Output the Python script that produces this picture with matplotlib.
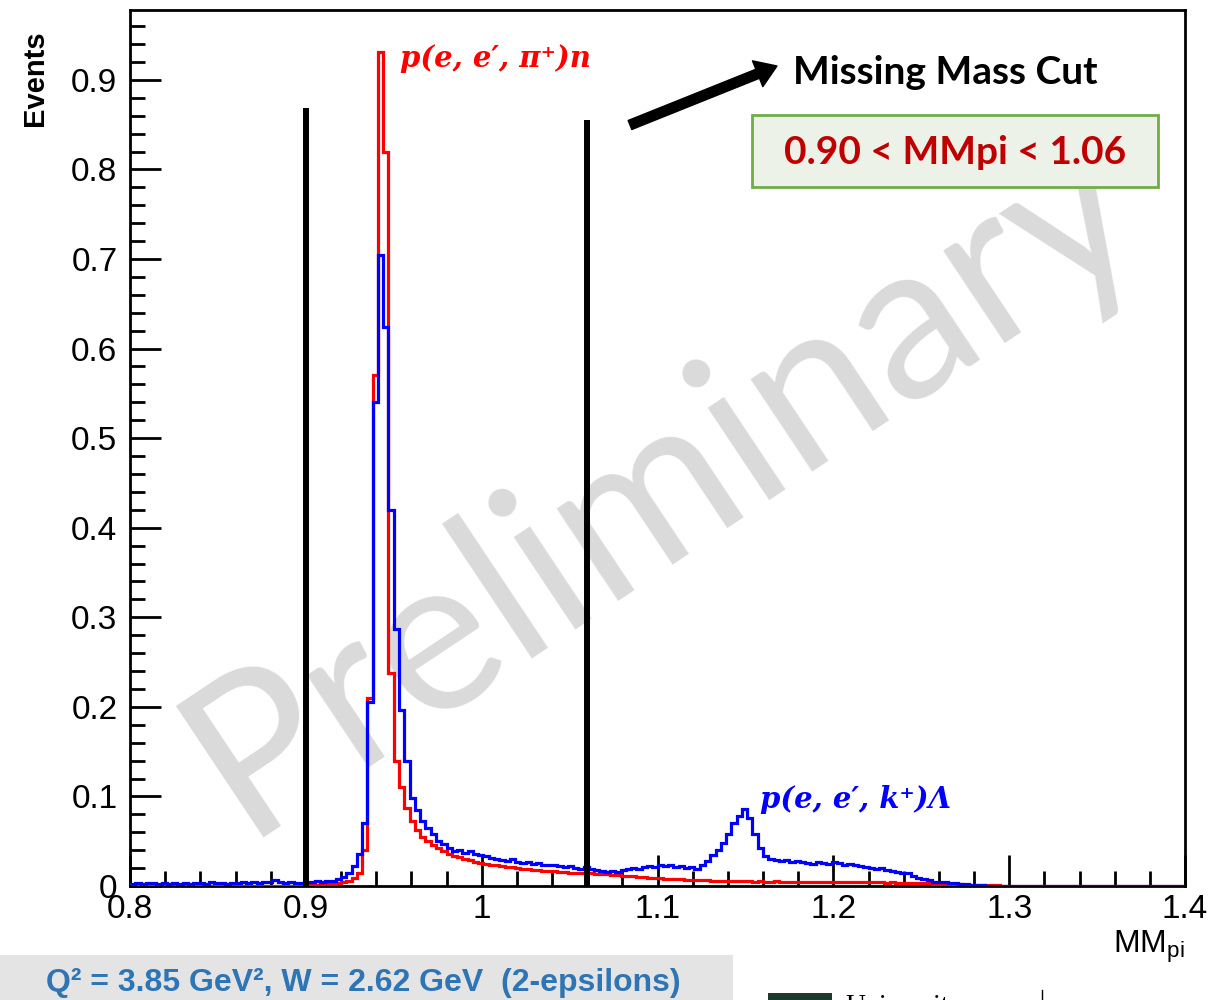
import numpy as np
import matplotlib.pyplot as plt
from matplotlib.patches import Rectangle
from matplotlib.lines import Line2D
from matplotlib.ticker import MultipleLocator, FuncFormatter

plt.rcParams['font.family'] = ['Liberation Sans', 'DejaVu Sans']

# missing mass histogram, 200 bins of 0.003 from 0.8 to 1.4
x_lo, x_hi, n_bins = 0.8, 1.4, 200

# p(e,e',pi+)n simulation
red_counts = ([0.0] * 30 + [
    0.0, 0.0, 0.0, 0.0, 0.001, 0.001, 0.001, 0.002, 0.002, 0.003,
    0.004, 0.006, 0.009, 0.014, 0.040, 0.210, 0.570, 0.931, 0.820, 0.238,
    0.140, 0.110, 0.087, 0.073, 0.062, 0.055, 0.050, 0.046, 0.042, 0.039,
    0.036, 0.034, 0.032, 0.030, 0.029, 0.027, 0.026, 0.025, 0.024, 0.023,
    0.022, 0.021, 0.021, 0.020, 0.019, 0.019, 0.018, 0.018, 0.017, 0.017,
    0.017, 0.016, 0.016, 0.015, 0.015, 0.015, 0.014, 0.014, 0.013, 0.013,
    0.013, 0.012, 0.012, 0.011, 0.011, 0.011, 0.010, 0.010, 0.009, 0.009,
    0.009, 0.008, 0.008, 0.008, 0.008, 0.007, 0.007, 0.007, 0.007, 0.007,
    0.006, 0.006, 0.006, 0.006, 0.006, 0.006, 0.006, 0.006, 0.005, 0.006,
    0.005, 0.005, 0.006, 0.005, 0.005, 0.005, 0.005, 0.005, 0.005, 0.005,
    0.005, 0.005, 0.004, 0.005, 0.004, 0.004, 0.004, 0.004, 0.004, 0.004,
    0.004, 0.004, 0.004, 0.003, 0.004, 0.003, 0.003, 0.003, 0.003, 0.003,
    0.003, 0.003, 0.002, 0.002, 0.002, 0.002, 0.002, 0.002, 0.001, 0.001,
    0.001, 0.001, 0.001, 0.001, 0.001,
] + [0.0] * 35)

# p(e,e',k+)Lambda simulation
blue_counts = [
    0.002, 0.003, 0.002, 0.003, 0.003, 0.002, 0.003, 0.002, 0.003, 0.002,
    0.003, 0.002, 0.003, 0.003, 0.002, 0.004, 0.003, 0.003, 0.002, 0.003,
    0.003, 0.004, 0.003, 0.004, 0.003, 0.004, 0.004, 0.007, 0.004, 0.003,
    0.004, 0.003, 0.003, 0.004, 0.005, 0.006, 0.005, 0.006, 0.006, 0.008,
    0.010, 0.015, 0.022, 0.036, 0.070, 0.205, 0.540, 0.705, 0.624, 0.420,
    0.287, 0.196, 0.140, 0.098, 0.085, 0.073, 0.065, 0.058, 0.050, 0.047,
    0.042, 0.039, 0.040, 0.037, 0.039, 0.036, 0.035, 0.033, 0.031, 0.030,
    0.029, 0.028, 0.030, 0.027, 0.026, 0.027, 0.025, 0.026, 0.024, 0.023,
    0.024, 0.022, 0.021, 0.022, 0.020, 0.019, 0.021, 0.019, 0.018, 0.017,
    0.016, 0.017, 0.016, 0.018, 0.019, 0.020, 0.019, 0.021, 0.022, 0.021,
    0.024, 0.022, 0.023, 0.021, 0.022, 0.020, 0.021, 0.019, 0.023, 0.028,
    0.035, 0.040, 0.048, 0.058, 0.070, 0.078, 0.086, 0.076, 0.058, 0.042,
    0.033, 0.030, 0.029, 0.028, 0.029, 0.027, 0.028, 0.027, 0.026, 0.025,
    0.027, 0.026, 0.025, 0.027, 0.026, 0.024, 0.025, 0.023, 0.022, 0.021,
    0.020, 0.019, 0.020, 0.018, 0.017, 0.016, 0.015, 0.014, 0.011, 0.009,
    0.008, 0.007, 0.005, 0.005, 0.004, 0.003, 0.003, 0.002, 0.002, 0.001,
    0.001, 0.001,
] + [0.0] * 38

# missing mass cut window and drawn line heights
cut_lo, cut_hi = 0.90, 1.06
cut_heights = [0.869, 0.855]

W, H = 1218, 1000
fig = plt.figure(figsize=(W / 100, H / 100), dpi=100)
ax = fig.add_axes([130 / W, 0.114, (1185 - 130) / W, 0.876])

edges = np.linspace(x_lo, x_hi, n_bins + 1)
ax.stairs(red_counts, edges, color='#ff0000', lw=2.3, zorder=3)
ax.stairs(blue_counts, edges, color='#0000ff', lw=2.3, zorder=4)
ax.vlines([cut_lo, cut_hi], 0, cut_heights, colors='black', lw=4.3, zorder=5)

ax.set_xlim(x_lo, x_hi)
ax.set_ylim(0, 0.978)
for axis in (ax.xaxis, ax.yaxis):
    axis.set_major_locator(MultipleLocator(0.1))
    axis.set_minor_locator(MultipleLocator(0.02))
    axis.set_major_formatter(FuncFormatter(lambda v, p: f'{v:g}'))
ax.tick_params(which='both', direction='in', top=False, right=False, width=2)
ax.tick_params(which='major', length=22, labelsize=24)
ax.tick_params(which='minor', length=11)
ax.tick_params(axis='y', pad=9)
ax.tick_params(axis='x', pad=6)
for s in ax.spines.values():
    s.set_linewidth(2)

# watermark
ax.text(0.505, 0.46, 'Preliminary', transform=ax.transAxes, rotation=33.7,
        rotation_mode='anchor', ha='center', va='center', fontsize=158,
        family='Lato', color='#dadada', zorder=0.5)

# reaction labels
ax.text(0.9536, 0.914, 'p(e, e′, π⁺)n', color='#ff0000', fontsize=21,
        family='DejaVu Serif', weight='bold', style='italic', va='baseline')
ax.text(1.1584, 0.087, 'p(e, e′, k⁺)Λ', color='#0000ff', fontsize=21,
        family='DejaVu Serif', weight='bold', style='italic', va='baseline')

# axis titles
fig.text(35 / W, 0.97, 'Events', rotation=90, ha='center', va='top',
         weight='bold', fontsize=21)
fig.text(1185 / W, 1 - 953 / H, r'MM$_{\mathregular{pi}}$', ha='right',
         va='baseline', fontsize=23)

# cut annotation
fig.text(793 / W, 1 - 84 / H, 'Missing Mass Cut', family='Lato', weight='bold',
         fontsize=28, va='baseline')
ax.annotate('', xy=(777 / W, 1 - 66 / H), xytext=(630 / W, 1 - 125 / H),
            xycoords='figure fraction', textcoords='figure fraction',
            arrowprops=dict(width=7, headwidth=20, headlength=15, color='black'))
fig.patches.append(Rectangle((752 / W, 1 - 187 / H), (1158 - 752) / W, 72 / H,
                             transform=fig.transFigure, fc='#ecf2e8',
                             ec='#70ad47', lw=2))
fig.text(955 / W, 1 - 152 / H, f'{cut_lo:.2f} < MMpi < {cut_hi:.2f}',
         family='Lato', weight='bold', fontsize=28, color='#c00000',
         ha='center', va='center')

# kinematics banner
fig.patches.append(Rectangle((0, 0), 733 / W, 0.045, transform=fig.transFigure,
                             fc='#e4e4e4', ec='none'))
fig.text(363 / W, 0.017, 'Q² = 3.85 GeV², W = 2.62 GeV  (2-epsilons)',
         ha='center', va='center', weight='bold', fontsize=23, color='#2e75b6')

# logo strip at the bottom edge
fig.patches.append(Rectangle((768 / W, 0), 64 / W, 0.007, transform=fig.transFigure,
                             fc='#1e3a2f', ec='none'))
fig.text(845 / W, 0.006, 'University', family='Liberation Serif', fontsize=20,
         va='top')
fig.lines.append(Line2D([1042 / W, 1042 / W], [0, 0.01], transform=fig.transFigure,
                        color='black', lw=1))

fig.savefig('out.png', dpi=100)
